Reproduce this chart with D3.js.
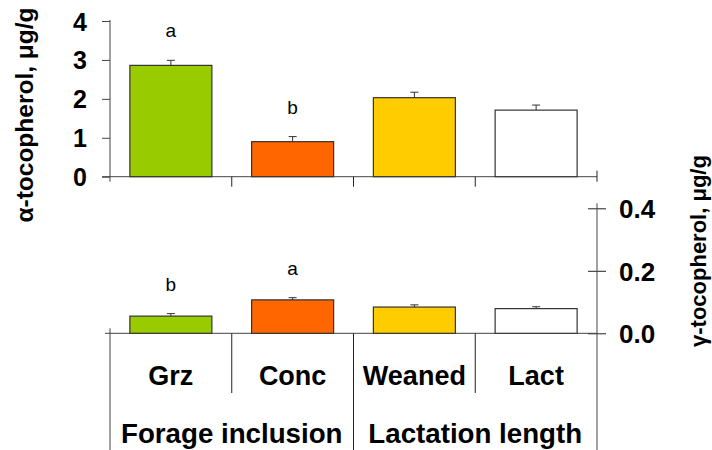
<!DOCTYPE html>
<html>
<head>
<meta charset="utf-8">
<script src="https://cdn.jsdelivr.net/npm/d3@7"></script>
<style>
  html, body { margin: 0; padding: 0; background: #fff; }
  svg { display: block; font-family: "Liberation Sans", Arial, sans-serif; }
</style>
</head>
<body>
<svg id="chart" width="712" height="450"></svg>
<script>
const categories = ["Grz", "Conc", "Weaned", "Lact"];
const groups = ["Forage inclusion", "Lactation length"];
const barColors = ["#99CC00", "#FF6600", "#FFCC00", "#FFFFFF"];

const alphaValues = [2.86, 0.90, 2.03, 1.71];
const alphaErrors = [0.13, 0.13, 0.14, 0.13];
const alphaLetters = ["a", "b", "", ""];
const alphaTicks = [0, 1, 2, 3, 4];

const gammaValues = [0.055, 0.107, 0.084, 0.079];
const gammaErrors = [0.008, 0.007, 0.007, 0.006];
const gammaLetters = ["b", "a", "", ""];
const gammaTicks = [0.0, 0.2, 0.4];

const alphaLabel = "α-tocopherol, μg/g";
const gammaLabel = "γ-tocopherol, μg/g";

const svg = d3.select("#chart");
const axisColor = "#444";
const left = 110, right = 597;

const x = d3.scaleBand().domain(categories).range([left, right])
  .paddingInner(0.3265).paddingOuter(0.16325);
const xStep = d3.scaleBand().domain(categories).range([left, right]).padding(0);
const xGroup = d3.scaleBand().domain(groups).range([left, right]).padding(0);

const yA = d3.scaleLinear().domain([0, 4]).range([176.7, 21]);
const yG = d3.scaleLinear().domain([0, 0.4]).range([333.3, 208.3]);

function drawBars(values, errors, letters, y) {
  const g = svg.append("g");
  const data = categories.map((c, i) => ({c, v: values[i], e: errors[i], l: letters[i], col: barColors[i]}));
  g.selectAll("rect").data(data).join("rect")
    .attr("x", d => x(d.c)).attr("width", x.bandwidth())
    .attr("y", d => y(d.v)).attr("height", d => y(0) - y(d.v))
    .attr("fill", d => d.col).attr("stroke", "#333").attr("stroke-width", 1.2);
  g.selectAll("line.err").data(data).join("line").attr("class", "err")
    .attr("x1", d => x(d.c) + x.bandwidth() / 2).attr("x2", d => x(d.c) + x.bandwidth() / 2)
    .attr("y1", d => y(d.v)).attr("y2", d => y(d.v + d.e))
    .attr("stroke", "#333").attr("stroke-width", 1);
  g.selectAll("line.cap").data(data).join("line").attr("class", "cap")
    .attr("x1", d => x(d.c) + x.bandwidth() / 2 - 4).attr("x2", d => x(d.c) + x.bandwidth() / 2 + 4)
    .attr("y1", d => y(d.v + d.e)).attr("y2", d => y(d.v + d.e))
    .attr("stroke", "#333").attr("stroke-width", 1);
  g.selectAll("text").data(data.filter(d => d.l)).join("text")
    .attr("x", d => x(d.c) + x.bandwidth() / 2)
    .attr("y", d => y(d.v + d.e) - 23)
    .attr("text-anchor", "middle").attr("font-size", 19).attr("fill", "#000")
    .text(d => d.l);
}

// ---- top chart (alpha) ----
const axA = svg.append("g").attr("transform", `translate(${left},0)`)
  .call(d3.axisLeft(yA).tickValues(alphaTicks).tickSizeInner(8).tickSizeOuter(0).tickPadding(15).tickFormat(d3.format("d")));
axA.select(".domain").remove();
axA.selectAll(".tick line").attr("stroke", axisColor);
axA.selectAll(".tick text").attr("font-size", 25).attr("font-weight", "bold").attr("fill", "#000")
  .attr("font-family", "'Liberation Sans', Arial, sans-serif").attr("dy", "0.36em");
svg.append("line").attr("x1", left).attr("x2", left).attr("y1", yA(4) - 1).attr("y2", yA(0) + 5).attr("stroke", axisColor);
svg.append("line").attr("x1", left - 8).attr("x2", right).attr("y1", yA(0)).attr("y2", yA(0)).attr("stroke", axisColor);
categories.slice(1).forEach(c => {
  svg.append("line").attr("x1", xStep(c)).attr("x2", xStep(c)).attr("y1", yA(0)).attr("y2", yA(0) + 10).attr("stroke", "#222");
});
svg.append("line").attr("x1", right).attr("x2", right).attr("y1", yA(0) - 6).attr("y2", yA(0) + 5).attr("stroke", "#222");

drawBars(alphaValues, alphaErrors, alphaLetters, yA);

// ---- bottom chart (gamma) ----
const axG = svg.append("g").attr("transform", `translate(${right},0)`)
  .call(d3.axisRight(yG).tickValues(gammaTicks).tickSizeInner(9).tickSizeOuter(0).tickPadding(13).tickFormat(d3.format(".1f")));
axG.select(".domain").remove();
axG.selectAll(".tick line").attr("x1", -9).attr("stroke", "#222");
axG.selectAll(".tick text").attr("font-size", 26).attr("font-weight", "bold").attr("fill", "#000")
  .attr("font-family", "'Liberation Sans', Arial, sans-serif").attr("dy", "0.36em");
svg.append("line").attr("x1", right).attr("x2", right).attr("y1", yG(0.4) - 5).attr("y2", 450).attr("stroke", axisColor);
svg.append("line").attr("x1", left - 5).attr("x2", right).attr("y1", yG(0)).attr("y2", yG(0)).attr("stroke", axisColor);
svg.append("line").attr("x1", left).attr("x2", left).attr("y1", yG(0) - 5).attr("y2", 450).attr("stroke", axisColor);
categories.slice(1).forEach(c => {
  const isGroup = groups.some(gr => Math.abs(xGroup(gr) - xStep(c)) < 1);
  svg.append("line").attr("x1", xStep(c)).attr("x2", xStep(c))
    .attr("y1", yG(0)).attr("y2", isGroup ? 450 : 393).attr("stroke", "#222");
});

drawBars(gammaValues, gammaErrors, gammaLetters, yG);

// category labels
svg.append("g").selectAll("text").data(categories).join("text")
  .attr("x", d => xStep(d) + xStep.bandwidth() / 2).attr("y", 385)
  .attr("text-anchor", "middle").attr("font-size", 27).attr("font-weight", "bold").attr("fill", "#000")
  .text(d => d);
svg.append("g").selectAll("text").data(groups).join("text")
  .attr("x", d => xGroup(d) + xGroup.bandwidth() / 2).attr("y", 443)
  .attr("text-anchor", "middle").attr("font-size", 27.7).attr("font-weight", "bold").attr("fill", "#000")
  .text(d => d);

// axis titles
svg.append("text").attr("transform", "translate(33,115) rotate(-90)")
  .attr("text-anchor", "middle").attr("font-size", 24.5).attr("font-weight", "bold").attr("fill", "#000")
  .text(alphaLabel);
svg.append("text").attr("transform", "translate(706,347) rotate(-90)")
  .attr("text-anchor", "start").attr("font-size", 22).attr("font-weight", "bold").attr("fill", "#000")
  .text(gammaLabel);
</script>
</body>
</html>
